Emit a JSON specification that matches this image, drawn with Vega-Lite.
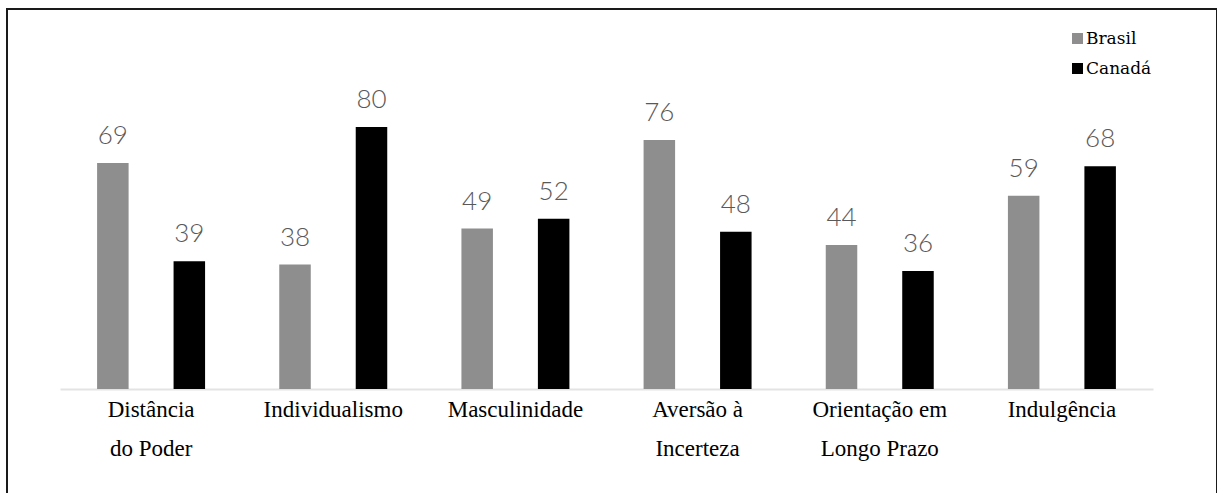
{
  "$schema": "https://vega.github.io/schema/vega-lite/v6.json",
  "width": 1210,
  "height": 490,
  "autosize": "none",
  "padding": {"left": 7, "top": 9, "right": 0, "bottom": 0},
  "background": "white",
  "config": {"view": {"stroke": "#1a1a1a", "strokeWidth": 2}},
  "data": {
    "values": [
      {"dim": "Distância|do Poder", "pais": "Brasil", "valor": 69},
      {"dim": "Distância|do Poder", "pais": "Canadá", "valor": 39},
      {"dim": "Individualismo", "pais": "Brasil", "valor": 38},
      {"dim": "Individualismo", "pais": "Canadá", "valor": 80},
      {"dim": "Masculinidade", "pais": "Brasil", "valor": 49},
      {"dim": "Masculinidade", "pais": "Canadá", "valor": 52},
      {"dim": "Aversão à|Incerteza", "pais": "Brasil", "valor": 76},
      {"dim": "Aversão à|Incerteza", "pais": "Canadá", "valor": 48},
      {"dim": "Orientação em|Longo Prazo", "pais": "Brasil", "valor": 44},
      {"dim": "Orientação em|Longo Prazo", "pais": "Canadá", "valor": 36},
      {"dim": "Indulgência", "pais": "Brasil", "valor": 59},
      {"dim": "Indulgência", "pais": "Canadá", "valor": 68}
    ]
  },
  "encoding": {
    "x": {
      "field": "dim",
      "type": "nominal",
      "sort": null,
      "scale": {"range": [53, 1146], "paddingInner": 0, "paddingOuter": 0},
      "axis": {
        "title": null,
        "offset": -110,
        "domainColor": "#e3e3e3",
        "domainWidth": 2,
        "ticks": false,
        "grid": false,
        "labelAngle": 0,
        "labelFont": "Liberation Serif",
        "labelFontStyle": "normal",
        "labelFontWeight": "normal",
        "labelFontSize": 23,
        "labelColor": "#000000",
        "labelLineHeight": 39,
        "labelPadding": 9,
        "labelLimit": 400,
        "labelOverlap": false,
        "labelExpr": "split(datum.label, '|')"
      }
    },
    "xOffset": {
      "field": "pais",
      "type": "nominal",
      "sort": ["Brasil", "Canadá"],
      "scale": {"paddingInner": 0.588, "paddingOuter": 0.485}
    },
    "y": {
      "field": "valor",
      "type": "quantitative",
      "scale": {"domain": [0, 100], "range": [380, 52.5]},
      "axis": null
    }
  },
  "layer": [
    {
      "mark": {"type": "bar"},
      "encoding": {
        "color": {
          "field": "pais",
          "type": "nominal",
          "scale": {"domain": ["Brasil", "Canadá"], "range": ["#8e8e8e", "#000000"]},
          "legend": {
            "title": null,
            "orient": "none",
            "legendX": 1062,
            "legendY": 21,
            "symbolType": "square",
            "symbolSize": 121,
            "symbolStrokeWidth": 0,
            "symbolOpacity": 1,
            "labelFont": "DejaVu Serif",
            "labelFontSize": 17,
            "labelColor": "#000000",
            "labelOffset": 0,
            "rowPadding": 12,
            "padding": 0
          }
        }
      }
    },
    {
      "mark": {
        "type": "text",
        "baseline": "bottom",
        "dy": -14,
        "font": "Lato",
        "fontWeight": 300,
        "fontSize": 26,
        "color": "#595959"
      },
      "encoding": {"text": {"field": "valor", "type": "quantitative"}}
    }
  ]
}
